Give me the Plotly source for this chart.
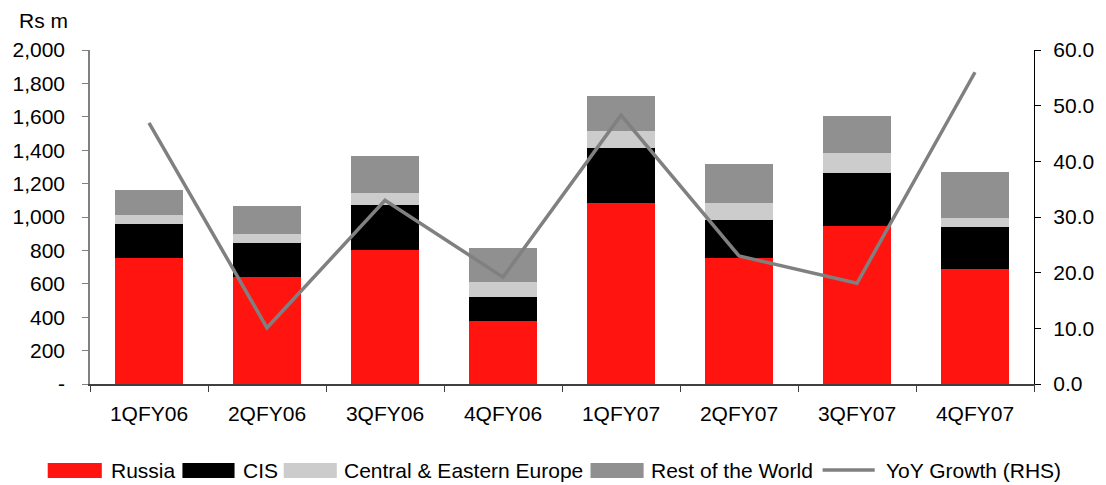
import plotly.graph_objects as go

# Quarterly revenue by region (Rs m) and YoY growth (%)
quarters = ["1QFY06", "2QFY06", "3QFY06", "4QFY06", "1QFY07", "2QFY07", "3QFY07", "4QFY07"]
russia = [755, 641, 803, 377, 1084, 755, 946, 689]
cis = [203, 204, 269, 144, 330, 227, 318, 251]
cee = [54, 53, 72, 90, 101, 102, 120, 54]
rest_of_world = [150, 168, 222, 204, 210, 234, 221, 276]
yoy_growth = [46.9, 10.1, 33.0, 19.2, 48.3, 23.0, 18.1, 56.0]

left_ticks = [0, 200, 400, 600, 800, 1000, 1200, 1400, 1600, 1800, 2000]
left_tick_text = ["-"] + [f"{v:,}" for v in left_ticks[1:]]
right_ticks = [0, 10, 20, 30, 40, 50, 60]

series_names = ["Russia", "CIS", "Central & Eastern Europe", "Rest of the World", "YoY Growth (RHS)"]
colors = ["#FF1410", "#000000", "#CCCCCC", "#909090", "#808080"]

W, H = 1106, 485
L, R, T, B = 87, 1047, 50, 384  # plot area in pixels
FONT = "Liberation Sans, Arial, sans-serif"

fig = go.Figure()
for vals, name, col in zip([russia, cis, cee, rest_of_world], series_names[:4], colors[:4]):
    fig.add_trace(go.Bar(x=quarters, y=vals, name=name, marker=dict(color=col, line=dict(width=0)),
                         showlegend=False))
fig.add_trace(go.Scatter(x=quarters, y=yoy_growth, name=series_names[4], mode="lines",
                         line=dict(color=colors[4], width=3.5), yaxis="y2", showlegend=False))


def px_x(p):
    return (p - L) / (R - L)


def px_y(p):
    return (B - p) / (B - T)


# Legend drawn as swatches and labels below the plot
swatch_x = [(44, 99), (181, 234), (284, 338), (596, 650)]
text_x = [106, 241, 343, 655, 894]
shapes = []
annotations = []
for (x0, x1), col in zip(swatch_x, colors[:4]):
    shapes.append(dict(type="rect", xref="paper", yref="paper", x0=px_x(x0), x1=px_x(x1),
                       y0=px_y(478), y1=px_y(463), fillcolor=col, line=dict(width=0)))
shapes.append(dict(type="line", xref="paper", yref="paper", x0=px_x(832), x1=px_x(885),
                   y0=px_y(470), y1=px_y(470), line=dict(color=colors[4], width=3.5)))
for tx, name in zip(text_x, series_names):
    annotations.append(dict(text=name, xref="paper", yref="paper", x=px_x(tx), y=px_y(470),
                            xanchor="left", yanchor="middle", showarrow=False,
                            font=dict(family=FONT, size=21, color="#000000")))
annotations.append(dict(text="Rs m", xref="paper", yref="paper", x=px_x(13), y=px_y(20),
                        xanchor="left", yanchor="middle", showarrow=False,
                        font=dict(family=FONT, size=21, color="#000000")))

fig.update_layout(
    width=W, height=H,
    margin=dict(l=L, r=W - R, t=T, b=H - B, pad=0),
    barmode="stack", bargap=0.425,
    plot_bgcolor="white", paper_bgcolor="white",
    font=dict(family=FONT, size=21, color="#000000"),
    xaxis=dict(showline=True, linecolor="#404040", linewidth=1.5, ticks="outside",
               tickson="boundaries", ticklen=6, tickcolor="#404040", showgrid=False,
               tickfont=dict(size=21), ticklabelstandoff=10),
    yaxis=dict(range=[0, 2000], tickvals=left_ticks, ticktext=left_tick_text,
               showline=True, linecolor="#808080", linewidth=1.5, ticks="outside", ticklen=6,
               tickcolor="#808080", showgrid=False, zeroline=False, ticklabelstandoff=13),
    yaxis2=dict(range=[0, 60], tickvals=right_ticks, tickformat=".1f", overlaying="y",
                side="right", showline=True, linecolor="#000000", linewidth=1.2,
                ticks="outside", ticklen=6, tickcolor="#000000", showgrid=False,
                zeroline=False, ticklabelstandoff=8),
    shapes=shapes, annotations=annotations,
)

fig.write_html("out.html")
